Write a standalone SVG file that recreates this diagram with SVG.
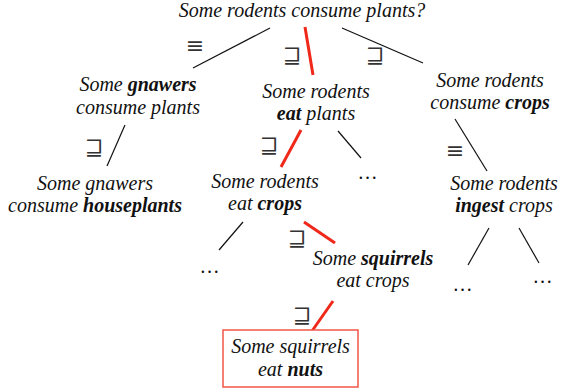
<svg xmlns="http://www.w3.org/2000/svg" width="562" height="392" viewBox="0 0 562 392">
<style>
.t{font-family:"Liberation Serif","Times New Roman",serif;font-style:italic;font-size:20px;fill:#111;text-anchor:middle}
.b{font-weight:bold}
.sym{font-family:"DejaVu Serif","DejaVu Sans",serif;font-size:22px;fill:#333;text-anchor:middle}
.k{stroke:#111;stroke-width:1.2;fill:none}
.r{stroke:#f0281a;stroke-width:3;fill:none}
</style>
<rect width="562" height="392" fill="#fff"/>
<g id="connectors">
<line class="k" x1="270" y1="28" x2="193" y2="68"/>
<line class="r" x1="305" y1="27" x2="313" y2="75"/>
<line class="k" x1="342" y1="28" x2="423" y2="63"/>
<line class="k" x1="125" y1="125" x2="107" y2="166"/>
<line class="r" x1="301" y1="130" x2="281" y2="167"/>
<line class="k" x1="338" y1="131" x2="361" y2="158"/>
<line class="k" x1="455" y1="119" x2="487" y2="171"/>
<line class="k" x1="243" y1="222" x2="219" y2="250"/>
<line class="r" x1="304" y1="222" x2="335" y2="243"/>
<line class="r" x1="333" y1="301" x2="312" y2="331"/>
<line class="k" x1="489" y1="228" x2="468" y2="265"/>
<line class="k" x1="519" y1="228" x2="539" y2="263"/>
<text class="sym" x="195" y="53">≡</text>
<text class="sym" x="292" y="63">⊒</text>
<text class="sym" x="375" y="63">⊒</text>
<text class="sym" x="94" y="155">⊒</text>
<text class="sym" x="269" y="153">⊒</text>
<text class="sym" x="455" y="158">≡</text>
<text class="sym" x="297" y="246">⊒</text>
<text class="sym" x="302" y="323">⊒</text>
</g>
<g id="n0"><text class="t" x="302" y="17">Some rodents consume plants?</text></g>
<g id="n1"><text class="t" x="138" y="91">Some <tspan class="b">gnawers</tspan></text><text class="t" x="138" y="114">consume plants</text></g>
<g id="n2"><text class="t" x="316" y="98">Some rodents</text><text class="t" x="316" y="120"><tspan class="b">eat</tspan> plants</text></g>
<g id="n3"><text class="t" x="490" y="87">Some rodents</text><text class="t" x="490" y="109">consume <tspan class="b">crops</tspan></text></g>
<g id="n4"><text class="t" x="95" y="190">Some gnawers</text><text class="t" x="95" y="212">consume <tspan class="b">houseplants</tspan></text></g>
<g id="n5"><text class="t" x="265" y="188">Some rodents</text><text class="t" x="265" y="210">eat <tspan class="b">crops</tspan></text></g>
<g id="n6"><text class="t" x="504" y="190">Some rodents</text><text class="t" x="504" y="212"><tspan class="b">ingest</tspan> crops</text></g>
<g id="n7"><text class="t" x="373" y="265">Some <tspan class="b">squirrels</tspan></text><text class="t" x="373" y="287">eat crops</text></g>
<g id="n8"><rect x="223" y="330" width="135" height="57" fill="#fff" stroke="#f05548" stroke-width="1.5"/><text class="t" x="290.5" y="353">Some squirrels</text><text class="t" x="290.5" y="376">eat <tspan class="b">nuts</tspan></text></g>
<g id="e1"><text class="t" x="368" y="179">…</text></g>
<g id="e2"><text class="t" x="210" y="273">…</text></g>
<g id="e3"><text class="t" x="463" y="291">…</text></g>
<g id="e4"><text class="t" x="543" y="283">…</text></g>
</svg>
